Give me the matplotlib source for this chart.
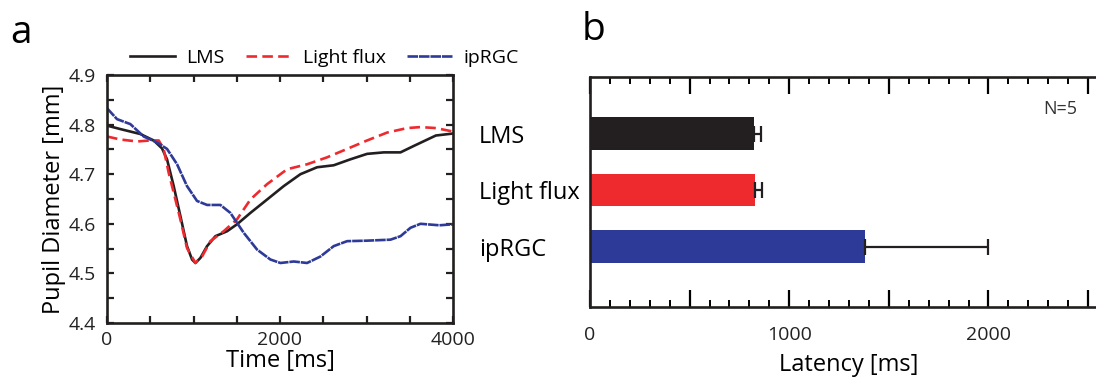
import matplotlib
matplotlib.use("Agg")
import matplotlib.pyplot as plt
from matplotlib.ticker import MultipleLocator, FuncFormatter

plt.rcParams['font.family'] = ['Open Sans', 'DejaVu Sans']

# panel a: pupil traces
t_lms = [0, 154, 386, 540, 636, 694, 771, 848, 925, 983, 1022, 1079, 1157, 1253, 1388, 1503,
         1658, 1851, 2043, 2236, 2429, 2621, 2814, 3007, 3200, 3393, 3547, 3802, 4000]
y_lms = [4.798, 4.791, 4.781, 4.768, 4.752, 4.730, 4.676, 4.616, 4.555, 4.528, 4.521, 4.531,
         4.555, 4.575, 4.585, 4.599, 4.622, 4.649, 4.676, 4.700, 4.714, 4.718, 4.730, 4.741,
         4.744, 4.744, 4.757, 4.778, 4.782]

t_flux = [0, 154, 347, 501, 598, 655, 713, 771, 848, 925, 1022, 1099, 1195, 1349, 1503, 1658,
          1851, 2082, 2313, 2544, 2776, 3007, 3239, 3470, 3624, 3802, 4000]
y_flux = [4.776, 4.770, 4.766, 4.768, 4.768, 4.751, 4.703, 4.663, 4.609, 4.551, 4.521, 4.534,
          4.565, 4.585, 4.609, 4.649, 4.680, 4.710, 4.720, 4.734, 4.751, 4.768, 4.784, 4.793,
          4.795, 4.793, 4.786]

t_iprgc = [0, 116, 270, 424, 578, 694, 810, 925, 1041, 1157, 1311, 1426, 1580, 1735, 1889, 2005,
           2159, 2313, 2467, 2621, 2776, 3007, 3277, 3393, 3509, 3624, 3843, 4000]
y_iprgc = [4.833, 4.811, 4.801, 4.776, 4.764, 4.751, 4.720, 4.676, 4.646, 4.638, 4.638, 4.622,
           4.582, 4.548, 4.528, 4.521, 4.524, 4.521, 4.534, 4.555, 4.565, 4.566, 4.568, 4.575,
           4.592, 4.600, 4.597, 4.599]

# panel b: latency
conditions = ['LMS', 'Light flux', 'ipRGC']
latency = [821, 826, 1380]
latency_err = [37, 38, 618]

black = '#231f20'
red = '#ee2a2f'
blue = '#2e3a98'

fig = plt.figure(figsize=(10.96, 3.81), dpi=100)

ax = fig.add_axes([107/1096, 1-323/381, 346/1096, 248/381])
ax.plot(t_lms, y_lms, color=black, lw=1.9, label='LMS')
ax.plot(t_flux, y_flux, color=red, lw=1.9, ls=(0, (4, 2)), label='Light flux')
ax.plot(t_iprgc, y_iprgc, color=blue, lw=1.9, ls=(0, (4, 0.35)), label='ipRGC')
ax.set_xlim(0, 4000)
ax.set_ylim(4.4, 4.9)
ax.set_xticks([0, 2000, 4000])
ax.xaxis.set_minor_locator(MultipleLocator(500))
ax.set_yticks([4.4, 4.5, 4.6, 4.7, 4.8, 4.9])
ax.yaxis.set_minor_locator(MultipleLocator(0.05))
ax.tick_params(which='both', direction='in', top=True, right=True, length=5, width=1.6,
               color=black, labelsize=14, labelcolor='#222222')
ax.tick_params(axis='y', pad=8)
ax.tick_params(axis='x', pad=6)
for s in ax.spines.values():
    s.set_linewidth(1.9)
    s.set_color(black)
ax.set_xlabel('Time [ms]', fontsize=17, labelpad=0)
ax.set_ylabel('Pupil Diameter [mm]', fontsize=17, labelpad=2)
fig.legend(loc='center', bbox_to_anchor=(0.296, 1-58/381), ncol=3, frameon=False,
           fontsize=14, handlelength=2.3, handletextpad=0.6, columnspacing=1.1)
fig.text(10/1096, 1-33/381, 'a', fontsize=28, va='center', ha='left')

bx = fig.add_axes([590/1096, 1-307/381, 518/1096, 230/381])
pos = list(range(len(conditions)))
bx.barh(pos, latency, height=0.58, color=[black, red, blue],
        xerr=[[0] * len(latency), latency_err],
        error_kw=dict(ecolor=black, elinewidth=1.6, capsize=6, capthick=1.6))
bx.set_xlim(0, 2600)
bx.set_ylim(3.07, -1.0)
bx.xaxis.set_major_locator(MultipleLocator(500))
bx.xaxis.set_major_formatter(FuncFormatter(lambda v, p: '%d' % v if v % 1000 == 0 else ''))
bx.xaxis.set_minor_locator(MultipleLocator(100))
bx.set_yticks(pos)
bx.set_yticklabels(conditions, fontsize=17, ha='left')
bx.tick_params(axis='y', length=0, pad=80)
bx.tick_params(axis='x', which='major', direction='in', top=True, length=12, width=1.6,
               labelsize=14, labelcolor='#222222', pad=14)
bx.tick_params(axis='x', which='minor', direction='in', top=True, length=5, width=1.4)
for s in bx.spines.values():
    s.set_linewidth(1.9)
    s.set_color(black)
bx.set_xlabel('Latency [ms]', fontsize=17, labelpad=6)
bx.text(0.94, 0.86, 'N=5', transform=bx.transAxes, fontsize=13, ha='right', va='center',
        color='#333333')
fig.text(582/1096, 1-30/381, 'b', fontsize=28, va='center', ha='left')

fig.savefig('out.png', dpi=100)
